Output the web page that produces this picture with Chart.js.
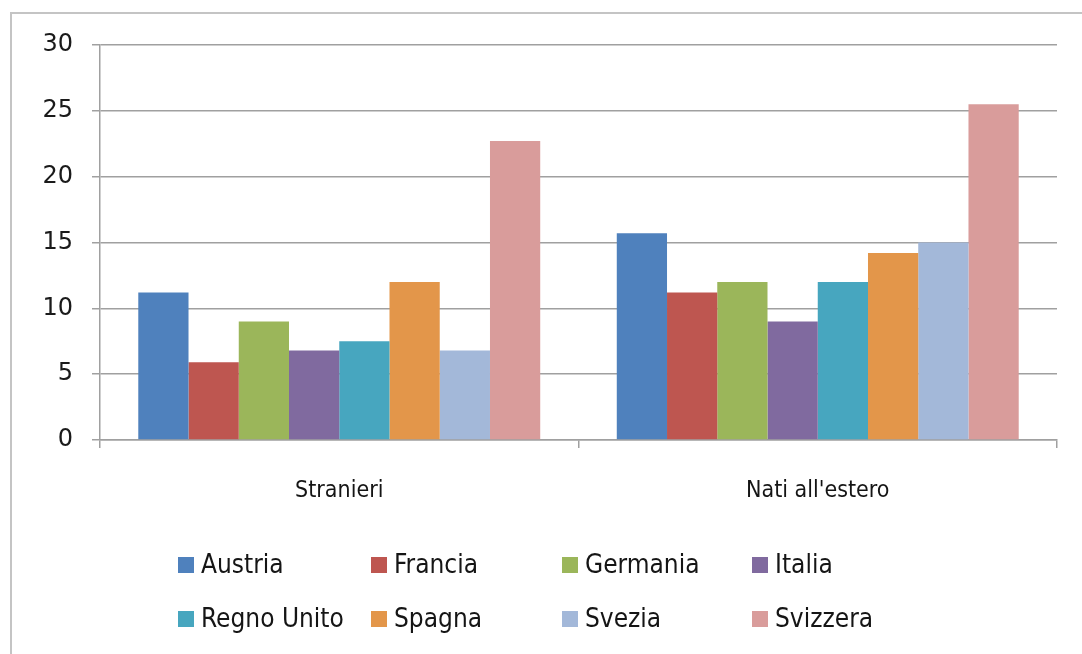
<!DOCTYPE html>
<html>
<head>
<meta charset="utf-8">
<script src="https://cdn.jsdelivr.net/npm/chart.js@4.4.1/dist/chart.umd.min.js"></script>
<style>
  html, body { margin: 0; padding: 0; background: #fff; overflow: hidden; }
  #wrap { position: relative; width: 1082px; height: 654px; overflow: hidden; }
  #frame { position: absolute; left: 10px; top: 12px; width: 1100px; height: 700px;
           border: 2px solid #c4c4c4; box-sizing: border-box; }
  #chart { position: absolute; left: 0; top: 0; }
  .leg { position: absolute; font-family: "DejaVu Sans Condensed", "DejaVu Sans", sans-serif;
         font-size: 26px; color: #151515; white-space: nowrap; line-height: 26px; }
  .leg span.box { position: absolute; left: 0; top: 6px; width: 16px; height: 16px; }
  .leg span.txt { position: absolute; left: 23px; top: 0; }
</style>
</head>
<body>
<div id="wrap">
  <div id="frame"></div>
  <canvas id="chart" width="1082" height="654"></canvas>
  <div id="legend"></div>
</div>
<script>
// Categories and series
const categories = ['Stranieri', "Nati all'estero"];
const countries = ['Austria', 'Francia', 'Germania', 'Italia', 'Regno Unito', 'Spagna', 'Svezia', 'Svizzera'];
const stranieri = [11.2, 5.9, 9.0, 6.8, 7.5, 12.0, 6.8, 22.7];
const natiAllEstero = [15.7, 11.2, 12.0, 9.0, 12.0, 14.2, 15.0, 25.5];
const colors = ['#4f81bd', '#be5650', '#9bb65a', '#806a9f', '#47a6bf', '#e3964a', '#a3b8d9', '#d99c9b'];
const yTicks = [0, 5, 10, 15, 20, 25, 30];

// one dataset per country, values per category
const datasets = countries.map((name, i) => ({
    label: name,
    data: [stranieri[i], natiAllEstero[i]],
    backgroundColor: colors[i],
    borderWidth: 0,
    categoryPercentage: 0.84,
    barPercentage: 1.0
}));

const ctx = document.getElementById('chart').getContext('2d');
const chart = new Chart(ctx, {
    type: 'bar',
    data: { labels: categories, datasets: datasets },
    options: {
        responsive: false,
        animation: false,
        layout: { padding: { top: 45, right: 25, left: 0, bottom: 0 } },
        plugins: { legend: { display: false }, tooltip: { enabled: false } },
        scales: {
            x: {
                grid: { offset: true, drawOnChartArea: false, color: '#a0a0a0', lineWidth: 1.5, tickLength: 8 },
                border: { color: '#a0a0a0', width: 1.5 },
                ticks: { color: '#151515', padding: 29,
                         font: { family: '"DejaVu Sans Condensed", "DejaVu Sans", sans-serif', size: 23 } },
                afterFit: (scale) => { scale.height = 214; }
            },
            y: {
                min: 0, max: 30,
                afterBuildTicks: (scale) => { scale.ticks = yTicks.map(v => ({ value: v })); },
                grid: { color: '#a0a0a0', lineWidth: 1.5, tickLength: 8 },
                border: { color: '#a0a0a0', width: 1.5 },
                ticks: { color: '#1a1a1a', padding: 19,
                         font: { family: '"DejaVu Sans", sans-serif', size: 24 } },
                afterFit: (scale) => { scale.width = 100; }
            }
        }
    }
});

// HTML legend in a 4 x 2 grid, built from the chart's datasets
const legendCols = [178, 371, 562, 752];
const legendRows = [551, 605];
const legendEl = document.getElementById('legend');
chart.data.datasets.forEach((ds, i) => {
    const item = document.createElement('div');
    item.className = 'leg';
    item.style.left = legendCols[i % 4] + 'px';
    item.style.top = legendRows[Math.floor(i / 4)] + 'px';
    item.innerHTML = '<span class="box" style="background:' + ds.backgroundColor + '"></span>' +
                     '<span class="txt">' + ds.label + '</span>';
    legendEl.appendChild(item);
});
</script>
</body>
</html>
